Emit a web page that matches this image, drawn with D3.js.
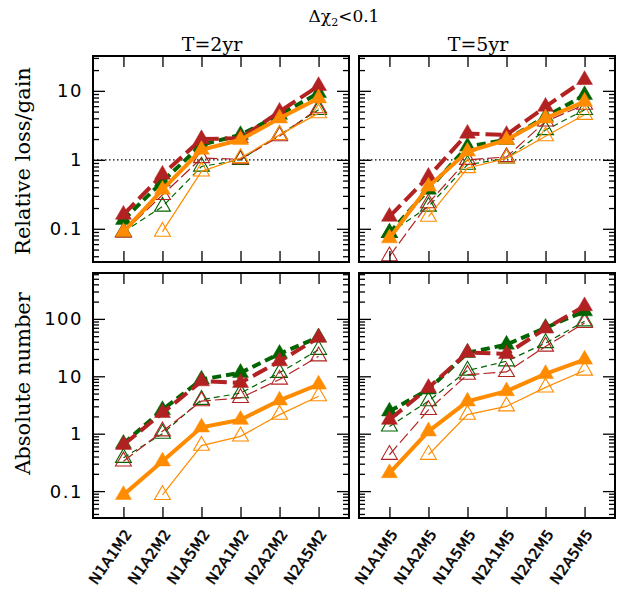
<!DOCTYPE html>
<html>
<head>
<meta charset="utf-8">
<script src="https://cdn.jsdelivr.net/npm/d3@7"></script>
<style>
body { margin: 0; background: #fff; }
text { fill: #000; }
</style>
</head>
<body>
<div id="chart-area"></div>
<script>

var cats2 = ["N1A1M2", "N1A2M2", "N1A5M2", "N2A1M2", "N2A2M2", "N2A5M2"];
var cats5 = ["N1A1M5", "N1A2M5", "N1A5M5", "N2A1M5", "N2A2M5", "N2A5M5"];

// relative loss/gain, T=2yr
var rel2RedFill    = [0.16, 0.61, 2.0, 2.05, 5.0, 11.8];
var rel2GreenFill  = [0.135, 0.485, 1.65, 2.3, 4.5, 9.3];
var rel2OrangeFill = [0.09, 0.37, 1.4, 1.95, 4.0, 7.8];
var rel2RedOpen    = [0.088, 0.31, 1.06, 1.02, 2.2, 5.6];
var rel2GreenOpen  = [0.09, 0.21, 0.8, 1.0, 2.3, 5.3];
var rel2OrangeOpen = [null, 0.091, 0.68, 1.06, 2.3, 4.75];

// relative loss/gain, T=5yr
var rel5RedFill    = [0.15, 0.57, 2.4, 2.3, 5.9, 14.4];
var rel5GreenFill  = [0.087, 0.37, 1.56, 1.95, 4.2, 8.7];
var rel5OrangeFill = [0.073, 0.41, 1.32, 1.95, 4.0, 7.0];
var rel5RedOpen    = [0.04, 0.235, 1.0, 1.1, 3.6, 6.3];
var rel5GreenOpen  = [0.087, 0.21, 0.85, 1.05, 2.7, 5.3];
var rel5OrangeOpen = [null, 0.15, 0.76, 1.05, 2.2, 4.5];

// absolute number, T=2yr
var abs2RedFill    = [0.64, 2.3, 8.2, 7.7, 18.3, 47];
var abs2GreenFill  = [0.67, 2.6, 8.8, 11.5, 24.7, 48];
var abs2OrangeFill = [0.086, 0.33, 1.29, 1.75, 3.8, 7.2];
var abs2RedOpen    = [0.33, 1.1, 3.7, 4.2, 8.8, 22.3];
var abs2GreenOpen  = [0.38, 1.0, 3.9, 5.1, 11.5, 29];
var abs2OrangeOpen = [null, 0.086, 0.62, 0.9, 2.15, 4.5];

// absolute number, T=5yr
var abs5RedFill    = [1.75, 6.3, 26, 24.5, 68, 167];
var abs5GreenFill  = [2.45, 5.9, 25.6, 35.7, 70, 136];
var abs5OrangeFill = [0.206, 1.1, 3.66, 5.5, 11, 19.6];
var abs5RedOpen    = [0.43, 2.6, 10.7, 11.9, 33, 85];
var abs5GreenOpen  = [1.34, 3.7, 12.6, 18.3, 38, 91];
var abs5OrangeOpen = [null, 0.43, 2.15, 3.0, 6.4, 12.6];

var relTicks = [0.1, 1, 10];
var absTicks = [0.1, 1, 10, 100];
var relTickLabels = ["0.1", "1", "10"];
var absTickLabels = ["0.1", "1", "10", "100"];

var red = "#b22222", green = "#006400", orange = "#ff8c00";

var W = 621, H = 598;
var panelW = 256;
var colX = [93, 359];
var topY = 56, topH = 206, botY = 273, botH = 245;

var svg = d3.select("#chart-area")
    .append("svg")
        .attr("width", W)
        .attr("height", H);

var yRel = d3.scaleLog().domain([0.033, 32]).range([topH, 0]);
var yAbs = d3.scaleLog().domain([0.034, 630]).range([botH, 0]);

function minorTicks(scale) {
    var dom = scale.domain(), out = [];
    for (var e = -3; e <= 3; e++) {
        for (var m = 2; m <= 9; m++) {
            var v = m * Math.pow(10, e);
            if (v > dom[0] && v < dom[1]) out.push(v);
        }
    }
    return out;
}

// series styles: open ones first, filled on top
function seriesList(s) {
    return [
        {v: s.greenOpen,  c: green,  w: 1.2, dash: "6,4",   fill: false},
        {v: s.redOpen,    c: red,    w: 1.2, dash: "12,4",  fill: false},
        {v: s.orangeOpen, c: orange, w: 1.2, dash: null,    fill: false},
        {v: s.greenFill,  c: green,  w: 4,   dash: "9,5",   fill: true},
        {v: s.redFill,    c: red,    w: 4,   dash: "16,6",  fill: true},
        {v: s.orangeFill, c: orange, w: 4,   dash: null,    fill: true}
    ];
}

function drawPanel(px, py, ph, yScale, cats, series, opts) {
    var g = svg.append("g")
        .attr("transform", "translate(" + px + "," + py + ")");

    var x = d3.scalePoint().domain(cats).range([0, panelW]).padding(0.78);

    // reference line at 1
    if (opts.unity) {
        g.append("line")
            .attr("x1", 0).attr("x2", panelW)
            .attr("y1", yScale(1)).attr("y2", yScale(1))
            .attr("stroke", "#000")
            .attr("stroke-width", 1.2)
            .attr("stroke-dasharray", "1.5,2.5");
    }

    var line = d3.line()
        .defined(function(d) { return d.v != null; })
        .x(function(d) { return x(d.c); })
        .y(function(d) { return yScale(d.v); });

    var sym = d3.symbol().type(d3.symbolTriangle).size(110);

    seriesList(series).forEach(function(s) {
        var pts = s.v.map(function(v, i) { return {c: cats[i], v: v}; });
        g.append("path")
            .datum(pts)
            .attr("d", line)
            .attr("fill", "none")
            .attr("stroke", s.c)
            .attr("stroke-width", s.w)
            .attr("stroke-dasharray", s.dash);
        g.selectAll(null)
            .data(pts.filter(function(d) { return d.v != null; }))
            .enter()
            .append("path")
            .attr("d", sym)
            .attr("transform", function(d) {
                return "translate(" + x(d.c) + "," + yScale(d.v) + ")";
            })
            .attr("fill", s.fill ? s.c : "none")
            .attr("stroke", s.c)
            .attr("stroke-width", s.fill ? 0.5 : 1.1);
    });

    // frame
    g.append("rect")
        .attr("width", panelW).attr("height", ph)
        .attr("fill", "none")
        .attr("stroke", "#000")
        .attr("stroke-width", 2);

    // x ticks, top and bottom, pointing in
    g.append("g")
        .attr("transform", "translate(0," + ph + ")")
        .call(d3.axisBottom(x).tickSize(-11).tickFormat(""))
        .call(function(a) { a.select(".domain").remove(); });
    g.append("g")
        .call(d3.axisTop(x).tickSize(-11).tickFormat(""))
        .call(function(a) { a.select(".domain").remove(); });

    // y ticks, both sides
    var major = opts.ticks, minor = minorTicks(yScale);
    [[d3.axisLeft, 0], [d3.axisRight, panelW]].forEach(function(p) {
        g.append("g")
            .attr("transform", "translate(" + p[1] + ",0)")
            .call(p[0](yScale).tickValues(major).tickSize(-12).tickFormat(""))
            .call(function(a) { a.select(".domain").remove(); });
        g.append("g")
            .attr("transform", "translate(" + p[1] + ",0)")
            .call(p[0](yScale).tickValues(minor).tickSize(-6).tickFormat(""))
            .call(function(a) { a.select(".domain").remove(); });
    });
    g.selectAll(".tick line").attr("stroke-width", 1.3);

    if (opts.yLabels) {
        g.selectAll(null)
            .data(major)
            .enter()
            .append("text")
            .attr("x", -10)
            .attr("y", function(d) { return yScale(d); })
            .attr("dy", "0.36em")
            .attr("text-anchor", "end")
            .style("font-family", "DejaVu Sans")
            .style("font-size", "18px")
            .style("letter-spacing", "1.5px")
            .text(function(d, i) { return opts.yLabels[i]; });
    }

    if (opts.xLabels) {
        g.selectAll(null)
            .data(cats)
            .enter()
            .append("text")
            .attr("transform", function(d) {
                return "translate(" + (x(d) + 9) + "," + (ph + 16) + ") rotate(-55)";
            })
            .attr("text-anchor", "end")
            .style("font-family", "DejaVu Sans")
            .style("font-size", "14.5px")
            .style("letter-spacing", "0.3px")
            .style("stroke", "#000")
            .style("stroke-width", 0.5)
            .text(function(d) { return d; });
    }
    return g;
}

drawPanel(colX[0], topY, topH, yRel, cats2, {
    redFill: rel2RedFill, greenFill: rel2GreenFill, orangeFill: rel2OrangeFill,
    redOpen: rel2RedOpen, greenOpen: rel2GreenOpen, orangeOpen: rel2OrangeOpen
}, {unity: true, ticks: relTicks, yLabels: relTickLabels});

drawPanel(colX[1], topY, topH, yRel, cats5, {
    redFill: rel5RedFill, greenFill: rel5GreenFill, orangeFill: rel5OrangeFill,
    redOpen: rel5RedOpen, greenOpen: rel5GreenOpen, orangeOpen: rel5OrangeOpen
}, {unity: true, ticks: relTicks});

drawPanel(colX[0], botY, botH, yAbs, cats2, {
    redFill: abs2RedFill, greenFill: abs2GreenFill, orangeFill: abs2OrangeFill,
    redOpen: abs2RedOpen, greenOpen: abs2GreenOpen, orangeOpen: abs2OrangeOpen
}, {ticks: absTicks, yLabels: absTickLabels, xLabels: true});

drawPanel(colX[1], botY, botH, yAbs, cats5, {
    redFill: abs5RedFill, greenFill: abs5GreenFill, orangeFill: abs5OrangeFill,
    redOpen: abs5RedOpen, greenOpen: abs5GreenOpen, orangeOpen: abs5OrangeOpen
}, {ticks: absTicks, xLabels: true});

// titles
var serif = "DejaVu Serif";
svg.append("text")
    .attr("x", 344).attr("y", 22)
    .attr("text-anchor", "middle")
    .style("font-family", serif).style("font-size", "17px")
    .html("Δχ<tspan dy='4' font-size='11px'>2</tspan><tspan dy='-4'>&lt;0.1</tspan>");

svg.append("text")
    .attr("x", colX[0] + panelW / 2 - 9).attr("y", 51)
    .attr("text-anchor", "middle")
    .style("font-family", serif).style("font-size", "19px")
    .text("T=2yr");
svg.append("text")
    .attr("x", colX[1] + panelW / 2 - 9).attr("y", 51)
    .attr("text-anchor", "middle")
    .style("font-family", serif).style("font-size", "19px")
    .text("T=5yr");

svg.append("text")
    .attr("transform", "translate(30," + (topY + topH / 2 + 2) + ") rotate(-90)")
    .attr("text-anchor", "middle")
    .style("font-family", serif).style("font-size", "21px")
    .text("Relative loss/gain");
svg.append("text")
    .attr("transform", "translate(30," + (botY + botH / 2 - 12) + ") rotate(-90)")
    .attr("text-anchor", "middle")
    .style("font-family", serif).style("font-size", "21px")
    .text("Absolute number");

</script>
</body>
</html>
